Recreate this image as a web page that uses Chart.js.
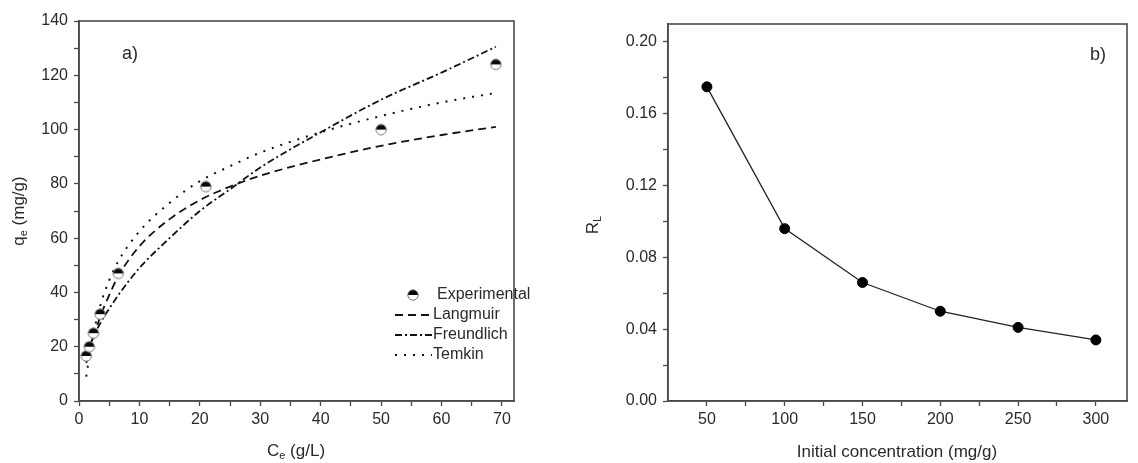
<!DOCTYPE html>
<html>
<head>
<meta charset="utf-8">
<script src="https://cdn.jsdelivr.net/npm/chart.js@4.4.1/dist/chart.umd.min.js"></script>
<style>
  html, body { margin: 0; padding: 0; background: #fff; }
  #wrap { position: relative; width: 1138px; height: 463px; }
  #chartA { position: absolute; left: 0; top: 0; }
  #chartB { position: absolute; left: 560px; top: 0; }
</style>
</head>
<body>
<div id="wrap">
  <canvas id="chartA" width="560" height="463"></canvas>
  <canvas id="chartB" width="578" height="463"></canvas>
</div>
<script>
// ---- panel a) data ----
const expC = [1.2, 1.7, 2.4, 3.5, 6.5, 21, 50, 69];
const expQ = [16.6, 20, 25, 32, 47, 79, 100, 124];

const langC = [1.2, 2, 3.5, 5, 6.5, 10, 15, 20, 25, 30, 40, 50, 60, 69];
const langQ = [14, 20, 31, 39, 46, 57, 67, 74, 79, 83, 89, 94, 98, 101];

const freuC = [1.2, 2, 3.5, 5, 6.5, 10, 15, 20, 25, 30, 40, 50, 60, 69];
const freuQ = [16.5, 21.5, 28.5, 34, 39, 49, 60, 70, 78, 86, 99, 111, 121, 130.5];

const temkC = [1.2, 2, 3.5, 5, 6.5, 10, 15, 20, 25, 30, 40, 50, 60, 69];
const temkQ = [9, 20.5, 35, 44.5, 51.5, 62.5, 73, 81, 86.5, 91.5, 99, 105, 110, 113.5];

const aXMajor = [0, 10, 20, 30, 40, 50, 60, 70];
const aXMinor = [5, 15, 25, 35, 45, 55, 65];
const aYMajor = [0, 20, 40, 60, 80, 100, 120, 140];
const aYMinor = [10, 30, 50, 70, 90, 110, 130];

// ---- panel b) data ----
const initConc = [50, 100, 150, 200, 250, 300];
const rl = [0.175, 0.096, 0.066, 0.050, 0.041, 0.034];

const bXMajor = [50, 100, 150, 200, 250, 300];
const bXMinor = [75, 125, 175, 225, 275];
const bYMajor = [0, 0.04, 0.08, 0.12, 0.16, 0.20];
const bYMinor = [0.02, 0.06, 0.10, 0.14, 0.18];

const FONT = "'Liberation Sans', Arial, sans-serif";
const INK = '#2a2a2a';
const AXIS = '#4a4a4a';

const pts = (xs, ys) => xs.map((x, i) => ({ x: x, y: ys[i] }));
const merged = (a, b) => a.concat(b).sort((p, q) => p - q);

// half filled circle like the original marker
const halfDot = (() =>
{
    const c = document.createElement('canvas');
    c.width = 14; c.height = 14;
    const g = c.getContext('2d');
    g.beginPath(); g.arc(7, 7, 5.2, 0, Math.PI * 2);
    g.fillStyle = '#fff'; g.fill();
    g.beginPath(); g.arc(7, 7, 5.2, Math.PI, 0);
    g.closePath(); g.fillStyle = '#0a0a0a'; g.fill();
    g.beginPath(); g.arc(7, 7, 5.2, 0, Math.PI * 2);
    g.lineWidth = 1; g.strokeStyle = '#777'; g.stroke();
    return c;
})();

// draw text pieces, some of them as subscript
const drawParts = (ctx, parts, size) =>
{
    const big = size + 'px ' + FONT;
    const small = Math.round(size * 0.62) + 'px ' + FONT;
    let w = 0;
    parts.forEach((p) => { ctx.font = p.sub ? small : big; w += ctx.measureText(p.t).width; });
    let x = -w / 2;
    parts.forEach((p) =>
    {
        ctx.font = p.sub ? small : big;
        ctx.fillText(p.t, x, p.sub ? size * 0.32 : 0);
        x += ctx.measureText(p.t).width;
    });
};

const framePlugin =
{
    id: 'frame',
    afterDraw(chart, args, opts)
    {
        const { ctx, chartArea: a } = chart;
        ctx.save();
        ctx.strokeStyle = AXIS;
        ctx.lineWidth = 1.6;
        ctx.strokeRect(a.left, a.top, a.right - a.left, a.bottom - a.top);

        ctx.fillStyle = INK;
        ctx.textAlign = 'left';
        ctx.textBaseline = 'middle';

        // axis titles
        ctx.save();
        ctx.translate(opts.xTitle.x, opts.xTitle.y);
        drawParts(ctx, opts.xTitle.parts, 17);
        ctx.restore();

        ctx.save();
        ctx.translate(opts.yTitle.x, opts.yTitle.y);
        ctx.rotate(-Math.PI / 2);
        drawParts(ctx, opts.yTitle.parts, 17);
        ctx.restore();

        // panel tag
        ctx.font = '18px ' + FONT;
        ctx.fillText(opts.tag.text, opts.tag.x, opts.tag.y);
        ctx.restore();
    }
};

const legendPlugin =
{
    id: 'innerLegend',
    afterDraw(chart, args, opts)
    {
        if (!opts.show) return;
        const { ctx } = chart;
        ctx.save();
        ctx.font = '16px ' + FONT;
        ctx.fillStyle = INK;
        ctx.textBaseline = 'middle';
        chart.data.datasets.forEach((ds, i) =>
        {
            const y = opts.y + i * opts.gap;
            if (ds.pointStyle instanceof HTMLCanvasElement)
            {
                ctx.drawImage(ds.pointStyle, opts.x + 18 - 7, y - 7);
            }
            else
            {
                ctx.beginPath();
                ctx.setLineDash(ds.borderDash || []);
                ctx.strokeStyle = ds.borderColor;
                ctx.lineWidth = ds.borderWidth;
                ctx.moveTo(opts.x, y);
                ctx.lineTo(opts.x + 37, y);
                ctx.stroke();
                ctx.setLineDash([]);
            }
            ctx.fillText(ds.label, opts.x + (i === 0 ? 42 : 38), y);
        });
        ctx.restore();
    }
};

const axisBase = (min, max, ticksList, labels, fmt, fixedSize, isX) =>
({
    type: 'linear',
    min: min,
    max: max,
    afterBuildTicks: (axis) => { axis.ticks = ticksList.map((v) => ({ value: v })); },
    afterFit: (axis) => { if (isX) axis.height = fixedSize; else axis.width = fixedSize; },
    grid: { drawOnChartArea: false, drawTicks: true, tickLength: 5, tickColor: AXIS, tickWidth: 1.3 },
    border: { display: true, color: AXIS, width: 1.6 },
    ticks:
    {
        autoSkip: false,
        maxRotation: 0,
        color: INK,
        padding: isX ? 4 : 6,
        font: { family: FONT, size: 16 },
        callback: (v) => labels.some((m) => Math.abs(m - v) < 1e-9) ? fmt(v) : ''
    }
});

Chart.defaults.animation = false;

new Chart(document.getElementById('chartA'),
{
    type: 'scatter',
    data:
    {
        datasets:
        [
            {
                label: 'Experimental',
                data: pts(expC, expQ),
                pointStyle: halfDot,
                pointRadius: 7,
                showLine: false,
                order: 0
            },
            {
                label: 'Langmuir',
                data: pts(langC, langQ),
                showLine: true,
                pointRadius: 0,
                borderColor: '#111',
                borderWidth: 1.8,
                borderDash: [8, 5],
                cubicInterpolationMode: 'monotone',
                order: 1
            },
            {
                label: 'Freundlich',
                data: pts(freuC, freuQ),
                showLine: true,
                pointRadius: 0,
                borderColor: '#111',
                borderWidth: 1.8,
                borderDash: [7, 3, 2, 3],
                cubicInterpolationMode: 'monotone',
                order: 2
            },
            {
                label: 'Temkin',
                data: pts(temkC, temkQ),
                showLine: true,
                pointRadius: 0,
                borderColor: '#111',
                borderWidth: 2,
                borderDash: [2, 7],
                cubicInterpolationMode: 'monotone',
                order: 3
            }
        ]
    },
    options:
    {
        responsive: false,
        layout: { padding: { left: 0, top: 21, right: 46, bottom: 0 } },
        plugins:
        {
            legend: { display: false },
            tooltip: { enabled: false },
            frame:
            {
                xTitle: { x: 296, y: 451, parts: [{ t: 'C' }, { t: 'e', sub: true }, { t: ' (g/L)' }] },
                yTitle: { x: 19, y: 211, parts: [{ t: 'q' }, { t: 'e', sub: true }, { t: ' (mg/g)' }] },
                tag: { text: 'a)', x: 122, y: 54 }
            },
            innerLegend: { show: true, x: 395, y: 295, gap: 20 }
        },
        scales:
        {
            x: axisBase(0, 72, merged(aXMajor, aXMinor), aXMajor, (v) => String(v), 62, true),
            y: axisBase(0, 140, merged(aYMajor, aYMinor), aYMajor, (v) => String(v), 79, false)
        }
    },
    plugins: [framePlugin, legendPlugin]
});

new Chart(document.getElementById('chartB'),
{
    type: 'scatter',
    data:
    {
        datasets:
        [
            {
                label: 'RL',
                data: pts(initConc, rl),
                showLine: true,
                borderColor: '#222',
                borderWidth: 1.3,
                pointRadius: 5,
                pointBackgroundColor: '#000',
                pointBorderColor: '#000',
                pointBorderWidth: 1
            }
        ]
    },
    options:
    {
        responsive: false,
        layout: { padding: { left: 0, top: 24, right: 578 - 567, bottom: 0 } },
        plugins:
        {
            legend: { display: false },
            tooltip: { enabled: false },
            frame:
            {
                xTitle: { x: 337, y: 452, parts: [{ t: 'Initial concentration (mg/g)' }] },
                yTitle: { x: 33, y: 225, parts: [{ t: 'R' }, { t: 'L', sub: true }] },
                tag: { text: 'b)', x: 530, y: 55 }
            },
            innerLegend: { show: false }
        },
        scales:
        {
            x: axisBase(25, 320, merged(bXMajor, bXMinor), bXMajor, (v) => String(v), 62, true),
            y: axisBase(0, 0.21, merged(bYMajor, bYMinor), bYMajor, (v) => v.toFixed(2), 108, false)
        }
    },
    plugins: [framePlugin, legendPlugin]
});
</script>
</body>
</html>
